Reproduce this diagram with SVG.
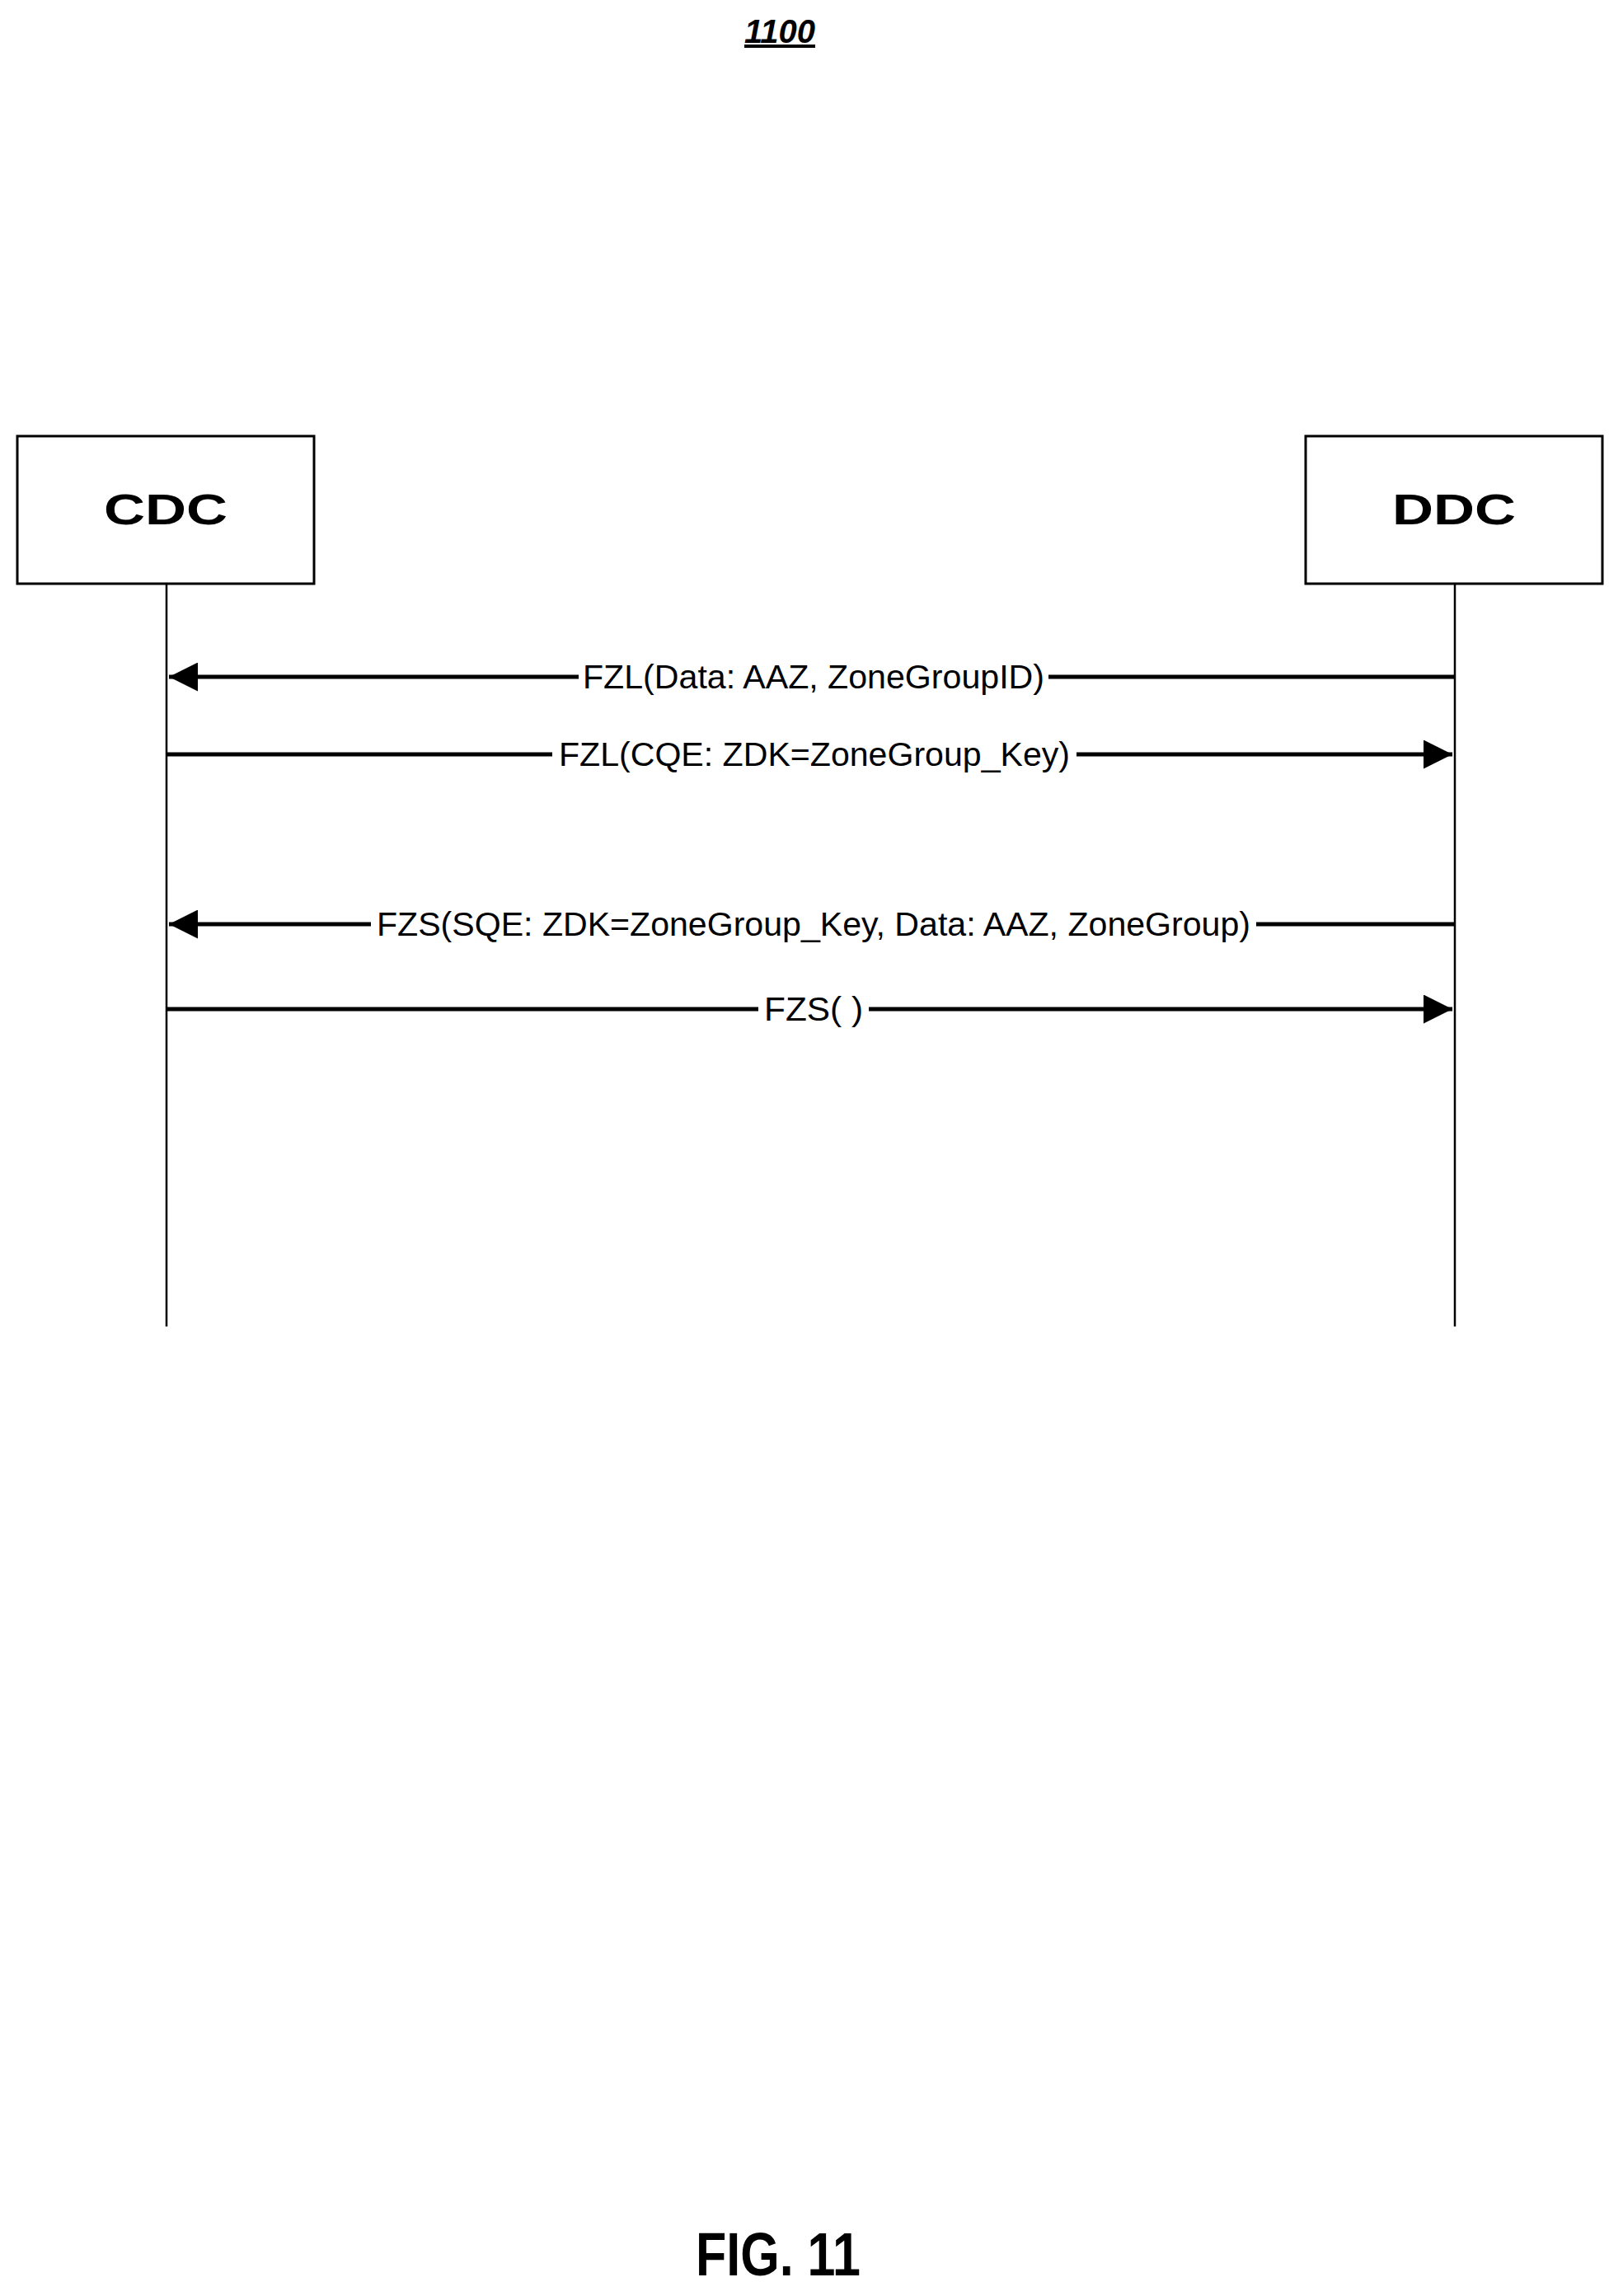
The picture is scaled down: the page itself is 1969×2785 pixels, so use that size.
<svg xmlns="http://www.w3.org/2000/svg" width="1969" height="2785" viewBox="0 0 1969 2785">
<style>
.box{fill:#fff;stroke:#000;stroke-width:3}
.life{stroke:#000;stroke-width:2.5;fill:none}
.msg{stroke:#000;stroke-width:5;fill:none}
.lbl{font-family:"Liberation Sans",Arial,sans-serif;font-size:40px;text-anchor:middle}
.nm{font-family:"Liberation Sans",Arial,sans-serif;font-size:52px;font-weight:bold;text-anchor:middle}
</style>
<defs>
<marker id="ah" viewBox="0 0 10 10" refX="10" refY="5" markerWidth="9" markerHeight="7" markerUnits="strokeWidth" orient="auto"><path d="M0,0 L10,5 L0,10 Z" fill="#000"/></marker>
</defs>
<rect width="1969" height="2785" fill="#fff"/>
<text x="946" y="52" font-family="Liberation Sans,Arial,sans-serif" font-size="40" font-weight="bold" font-style="italic" text-anchor="middle" text-decoration="underline">1100</text>
<g id="cdc"><rect class="box" x="21" y="529" width="360" height="179"/><text class="nm" x="201" y="636" textLength="150" lengthAdjust="spacingAndGlyphs">CDC</text></g>
<g id="ddc"><rect class="box" x="1584" y="529" width="360" height="179"/><text class="nm" x="1764" y="636" textLength="150" lengthAdjust="spacingAndGlyphs">DDC</text></g>
<g id="connectors">
<line class="life" x1="202" y1="708" x2="202" y2="1609"/>
<line class="life" x1="1765" y1="708" x2="1765" y2="1609"/>
<line class="msg" x1="1765" y1="821" x2="205" y2="821" marker-end="url(#ah)"/>
<line class="msg" x1="202" y1="915" x2="1762" y2="915" marker-end="url(#ah)"/>
<line class="msg" x1="1765" y1="1121" x2="205" y2="1121" marker-end="url(#ah)"/>
<line class="msg" x1="202" y1="1224" x2="1762" y2="1224" marker-end="url(#ah)"/>
<rect x="702" y="795" width="570" height="50" fill="#fff"/>
<text class="lbl" x="987" y="835" textLength="560" lengthAdjust="spacingAndGlyphs">FZL(Data: AAZ, ZoneGroupID)</text>
<rect x="670" y="889" width="636" height="50" fill="#fff"/>
<text class="lbl" x="988" y="929" textLength="620" lengthAdjust="spacingAndGlyphs">FZL(CQE: ZDK=ZoneGroup_Key)</text>
<rect x="450" y="1095" width="1074" height="50" fill="#fff"/>
<text class="lbl" x="987" y="1135" textLength="1060" lengthAdjust="spacingAndGlyphs">FZS(SQE: ZDK=ZoneGroup_Key, Data: AAZ, ZoneGroup)</text>
<rect x="920" y="1198" width="134" height="50" fill="#fff"/>
<text class="lbl" x="987" y="1238" textLength="120" lengthAdjust="spacingAndGlyphs">FZS( )</text>
</g>
<text x="944" y="2760" font-family="Liberation Sans,Arial,sans-serif" font-size="74" font-weight="bold" text-anchor="middle" textLength="200" lengthAdjust="spacingAndGlyphs">FIG. 11</text>
</svg>
